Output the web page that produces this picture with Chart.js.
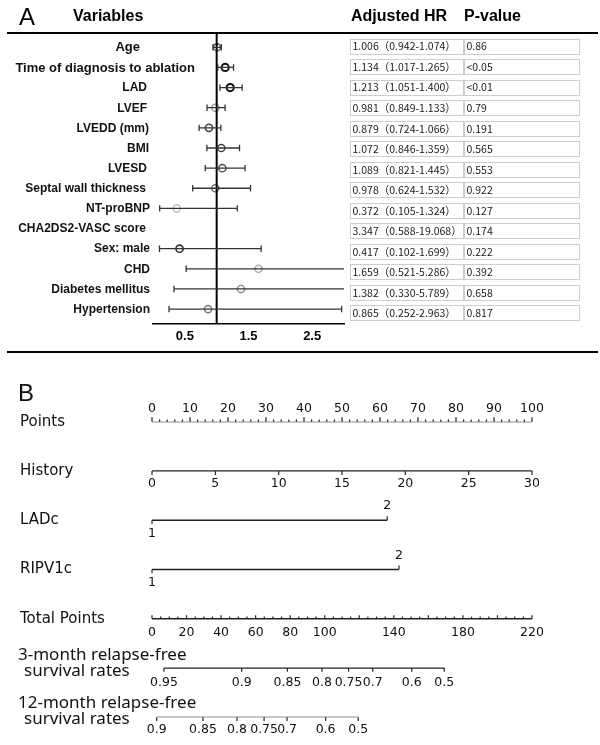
<!DOCTYPE html>
<html><head><meta charset="utf-8">
<script src="https://cdn.jsdelivr.net/npm/chart.js@4.4.1/dist/chart.umd.min.js"></script>
<style>
html,body{margin:0;padding:0;background:#fff;}
#wrap{position:relative;width:600px;height:745px;overflow:hidden;}
#a{position:absolute;left:0;top:0;}
#b{position:absolute;left:0;top:360px;}
</style></head><body>
<div id="wrap">
<canvas id="a" width="600" height="360"></canvas>
<canvas id="b" width="600" height="385"></canvas>
</div>
<script>
// ================= Panel A data =================
const variables = ['Age','Time of diagnosis to ablation','LAD','LVEF','LVEDD (mm)','BMI','LVESD',
  'Septal wall thickness','NT-proBNP','CHA2DS2-VASC score','Sex: male','CHD','Diabetes mellitus','Hypertension'];
const hrText  = ['1.006','1.134','1.213','0.981','0.879','1.072','1.089','0.978','0.372','3.347','0.417','1.659','1.382','0.865'];
const lowText = ['0.942','1.017','1.051','0.849','0.724','0.846','0.821','0.624','0.105','0.588','0.102','0.521','0.330','0.252'];
const highText= ['1.074','1.265','1.400','1.133','1.066','1.359','1.445','1.532','1.324','19.068','1.699','5.286','5.789','2.963'];
const pValues = ['0.86','<0.05','<0.01','0.79','0.191','0.565','0.553','0.922','0.127','0.174','0.222','0.392','0.658','0.817'];
const plotted = [true,true,true,true,true,true,true,true,true,false,true,true,true,true];
const forestTicks = [0.5, 1.5, 2.5];

// ================= Panel B data =================
const pointsLabels = [0,10,20,30,40,50,60,70,80,90,100];
const historyTicks = [0,5,10,15,20,25,30];
const historyMax = 30;            // History value scoring 100 points
const ladcLevels = ['1','2'];
const ladcPoints = [0, 61.9];
const ripvLevels = ['1','2'];
const ripvPoints = [0, 65.0];
const totalLabels = [0,20,40,60,80,100,140,180,220];
const totalMax = 220;
const surv3Labels = ['0.95','0.9','0.85','0.8','0.75','0.7','0.6','0.5'];
const surv3Total  = [6.9, 51.9, 78.4, 98.4, 113.8, 127.8, 150.4, 169.2];
const surv12Labels = ['0.9','0.85','0.8','0.75','0.7','0.6','0.5'];
const surv12Total  = [2.7, 29.5, 49.2, 64.9, 78.2, 100.5, 119.4];

// ================= styles =================
const markerColors = ['#555','#111','#111','#999','#444','#444','#555','#666','#bbb',null,'#333','#aaa','#888','#777'];
const markerWidths = [1.4,2,2,1.4,1.6,1.5,1.5,1.4,1.4,0,1.6,1.4,1.4,1.4];
const labelSizes = [13,13,12,12,12,12,12,12,12,12,12,12,12,12];
const labelRight = [140,195,147,147,149,149,147,146,150,146,150,150,150,150];

const A_YMIN = -0.71, A_YMAX = 13.71;

// ---------------- Panel A ----------------
const dsA = [];
variables.forEach((v,i)=>{
  if(!plotted[i]) return;
  dsA.push({
    data:[{x:parseFloat(lowText[i]),y:i},{x:parseFloat(highText[i]),y:i}],
    showLine:true, borderColor:'#333', borderWidth:1.3,
    pointStyle:'line', pointRotation:90, pointRadius:3.2, pointHoverRadius:3.2,
    pointBorderColor:'#333', pointBorderWidth:1.3
  });
});
dsA.push({
  data:[{x:1,y:A_YMIN},{x:1,y:A_YMAX}], showLine:true, borderColor:'#000', borderWidth:2, pointRadius:0
});
const mk = [], mkC = [], mkW = [];
variables.forEach((v,i)=>{ if(plotted[i]){ mk.push({x:parseFloat(hrText[i]),y:i}); mkC.push(markerColors[i]); mkW.push(markerWidths[i]); }});
dsA.push({
  data:mk, showLine:false, pointStyle:'circle', pointRadius:3.6, pointHoverRadius:3.6,
  pointBackgroundColor:'rgba(0,0,0,0)', pointBorderColor:mkC, pointBorderWidth:mkW
});

const panelADecor = {
  id:'panelADecor',
  afterDraw(chart){
    const ctx = chart.ctx, y = chart.scales.y, yt = chart.scales.yTable;
    ctx.save();
    ctx.fillStyle = '#000';
    ctx.fillRect(7, 32, 591, 2);
    ctx.fillRect(7, 351, 591, 2);
    ctx.textBaseline = 'alphabetic'; ctx.textAlign = 'left';
    ctx.font = '24px "Liberation Sans"'; ctx.fillText('A', 19, 25);
    ctx.font = 'bold 16px "Liberation Sans"';
    ctx.fillText('Variables', 73, 21);
    ctx.fillText('Adjusted HR', 351, 21);
    ctx.fillText('P-value', 464, 21);
    // variable labels
    ctx.textAlign = 'right'; ctx.textBaseline = 'middle'; ctx.fillStyle = '#111';
    variables.forEach((v,i)=>{
      ctx.font = 'bold ' + labelSizes[i] + 'px "Liberation Sans"';
      ctx.fillText(v, labelRight[i], y.getPixelForValue(i) + 0.5);
    });
    // table
    ctx.textAlign = 'left';
    ctx.font = '10.5px "Noto Sans CJK SC"';
    variables.forEach((v,i)=>{
      const yc = yt.getPixelForValue(i);
      ctx.strokeStyle = '#cdcdcd'; ctx.lineWidth = 1;
      ctx.strokeRect(350.5, Math.round(yc-7.5)+0.5, 113, 15);
      ctx.strokeRect(464.5, Math.round(yc-7.5)+0.5, 115, 15);
      ctx.fillStyle = '#1a1a1a';
      ctx.fillText(hrText[i] + '（' + lowText[i] + '-' + highText[i] + '）', 352.5, yc + 0.5);
      ctx.fillText(pValues[i], 466.5, yc + 0.5);
    });
    ctx.restore();
  }
};

new Chart(document.getElementById('a'), {
  type:'scatter',
  data:{datasets:dsA},
  options:{
    responsive:false, animation:false,
    layout:{padding:{left:153, right:256, top:33, bottom:11}},
    plugins:{legend:{display:false}, tooltip:{enabled:false}},
    scales:{
      x:{type:'linear', min:0, max:3, position:'bottom',
        grid:{display:false, drawTicks:false},
        border:{display:true, color:'#000', width:1.5},
        afterBuildTicks:(s)=>{ s.ticks = forestTicks.map(v=>({value:v})); },
        ticks:{padding:5, color:'#000', font:{family:'Liberation Sans', size:13, weight:'bold'},
          callback:(v)=>String(v)}
      },
      y:{type:'linear', min:A_YMIN, max:A_YMAX, reverse:true, display:false},
      yTable:{type:'linear', axis:'y', min:-0.634, max:13.527, reverse:true, display:false}
    }
  },
  plugins:[panelADecor]
});

// ---------------- Panel B ----------------
const toPts = (t)=> t*100/totalMax;
const dsB = [
  [0,100],
  [0, historyTicks[historyTicks.length-1]*100/historyMax],
  [ladcPoints[0], ladcPoints[1]],
  [ripvPoints[0], ripvPoints[1]],
  [0, toPts(totalMax)],
  [toPts(surv3Total[0]), toPts(surv3Total[surv3Total.length-1])],
  [toPts(surv12Total[0]), toPts(surv12Total[surv12Total.length-1])]
].map((r,i)=>({data:[{x:r[0],y:i},{x:r[1],y:i}], showLine:true, borderColor:'#222', borderWidth:1.3, pointRadius:0}));

const rowNames = ['Points','History','LADc','RIPV1c','Total Points'];

const panelBDecor = {
  id:'panelBDecor',
  afterDraw(chart){
    const ctx = chart.ctx, xs = chart.scales.x, ys = chart.scales.y;
    const X = (p)=>xs.getPixelForValue(p), Y = (r)=>ys.getPixelForValue(r);
    const tick = (x,y,len)=>{ ctx.beginPath(); ctx.moveTo(x,y); ctx.lineTo(x,y+len); ctx.stroke(); };
    ctx.save();
    ctx.strokeStyle = '#222'; ctx.lineWidth = 1.2; ctx.fillStyle = '#111';
    ctx.textBaseline = 'alphabetic'; ctx.textAlign = 'left';
    ctx.font = '24px "Liberation Sans"'; ctx.fillText('B', 18, 41);
    // row names
    ctx.textBaseline = 'middle';
    ctx.font = '15px "DejaVu Sans"';
    rowNames.forEach((n,i)=>ctx.fillText(n, 20, Y(i)));
    ctx.font = '17px "Noto Sans"';
    ctx.fillText('3-month relapse-free', 18, Y(5)-13.3);
    ctx.fillText('survival rates', 24, Y(5)+3.4);
    ctx.fillText('12-month relapse-free', 18, Y(6)-14.3);
    ctx.fillText('survival rates', 24, Y(6)+2);
    // tick labels
    ctx.textAlign = 'center';
    ctx.font = '12.5px "DejaVu Sans"';
    // Points
    for(let v=0; v<=100; v+=2) tick(X(v), Y(0), (v%10===0)? -4.5 : -2.2);
    pointsLabels.forEach(v=>ctx.fillText(String(v), X(v), Y(0)-13.3));
    // History
    historyTicks.forEach(v=>{ const p=v*100/historyMax; tick(X(p), Y(1), 4); ctx.fillText(String(v), X(p), Y(1)+12.6); });
    // LADc, RIPV1c
    [[ladcLevels,ladcPoints,2],[ripvLevels,ripvPoints,3]].forEach(([lv,pt,r])=>{
      tick(X(pt[0]), Y(r), 3.8); ctx.fillText(lv[0], X(pt[0]), Y(r)+13.3);
      tick(X(pt[1]), Y(r), -4);  ctx.fillText(lv[1], X(pt[1]), Y(r)-14);
    });
    // Total points
    for(let v=0; v<=totalMax; v+=5) tick(X(toPts(v)), Y(4), (v%20===0)? -3.5 : -2.2);
    totalLabels.forEach(v=>ctx.fillText(String(v), X(toPts(v)), Y(4)+14.4));
    // survival
    surv3Total.forEach((t,i)=>{ tick(X(toPts(t)), Y(5), 3.6); ctx.fillText(surv3Labels[i], X(toPts(t)), Y(5)+14.4); });
    surv12Total.forEach((t,i)=>{ tick(X(toPts(t)), Y(6), 3.6); ctx.fillText(surv12Labels[i], X(toPts(t)), Y(6)+12.7); });
    ctx.restore();
  }
};

new Chart(document.getElementById('b'), {
  type:'scatter',
  data:{datasets:dsB},
  options:{
    responsive:false, animation:false,
    layout:{padding:{left:152, right:68, top:61.7, bottom:27.7}},
    plugins:{legend:{display:false}, tooltip:{enabled:false}},
    scales:{
      x:{type:'linear', min:0, max:100, display:false},
      y:{type:'linear', min:0, max:6, reverse:true, display:false}
    }
  },
  plugins:[panelBDecor]
});
</script>
</body></html>
